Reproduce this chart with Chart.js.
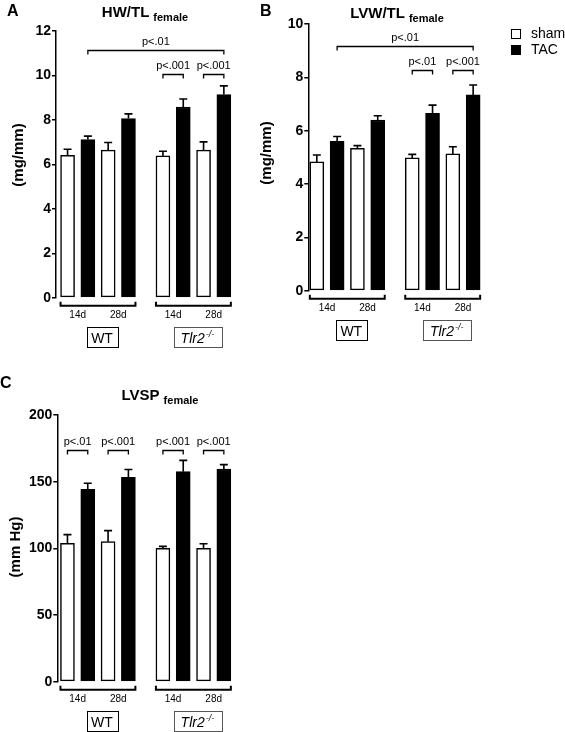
<!DOCTYPE html>
<html>
<head>
<meta charset="utf-8">
<script src="https://cdn.jsdelivr.net/npm/chart.js@4"></script>
<style>
  body { margin: 0; background: #fff; }
  #wrap { position: relative; width: 565px; height: 732px; }
  canvas { position: absolute; }
</style>
</head>
<body>
<div id="wrap">
  <canvas id="chartA" width="250" height="365" style="left:0;top:0"></canvas>
  <canvas id="chartB" width="315" height="365" style="left:250px;top:0"></canvas>
  <canvas id="chartC" width="250" height="362" style="left:0;top:370px"></canvas>
</div>
<script>
// conditions, in bar order: WT 14d, WT 28d, Tlr2 14d, Tlr2 28d
const genotypes = ['WT', 'Tlr2'];
const days = ['14d', '28d'];
const seriesNames = ['sham', 'TAC'];

// HW/TL female (mg/mm)
const hwSham = [6.41, 6.64, 6.38, 6.64];
const hwShamErr = [0.27, 0.34, 0.21, 0.37];
const hwTac = [7.12, 8.06, 8.58, 9.14];
const hwTacErr = [0.15, 0.21, 0.36, 0.39];
const hwTicks = [0, 12, 2];
// [from bar, to bar, level, text]
const hwSig = [[1, 7, 11.15, 'p<.01'], [4, 5, 10.05, 'p<.001'], [6, 7, 10.05, 'p<.001']];

// LVW/TL female (mg/mm)
const lvwSham = [4.83, 5.34, 4.98, 5.13];
const lvwShamErr = [0.26, 0.10, 0.13, 0.27];
const lvwTac = [5.60, 6.40, 6.65, 7.34];
const lvwTacErr = [0.18, 0.16, 0.31, 0.37];
const lvwTicks = [0, 10, 2];
const lvwSig = [[1, 7, 9.18, 'p<.01'], [4, 5, 8.28, 'p<.01'], [6, 7, 8.28, 'p<.001']];

// LVSP female (mm Hg)
const lvspSham = [103.8, 105.0, 100.0, 100.0];
const lvspShamErr = [6.5, 8.3, 1.5, 3.5];
const lvspTac = [144.3, 153.3, 157.5, 159.5];
const lvspTacErr = [4.5, 5.8, 8.5, 3.3];
const lvspTicks = [0, 200, 50];
const lvspSig = [[0, 1, 173.8, 'p<.01'], [2, 3, 173.8, 'p<.001'], [4, 5, 173.8, 'p<.001'], [6, 7, 173.8, 'p<.001']];

const FONT = '"Liberation Sans", Arial, Helvetica, sans-serif';
Chart.defaults.font.family = FONT;
Chart.defaults.color = '#000';

const GROUP_STEP = 4.7;   // genotype groups sit a little further apart
function xPos(k, s) {
    return Math.floor(k / 2) * GROUP_STEP + (k % 2) * 2 + s;
}

function makeDatasets(sham, tac) {
    return [sham, tac].map((vals, s) => ({
        label: seriesNames[s],
        data: vals.map((v, k) => ({ x: xPos(k, s), y: v })),
        backgroundColor: s ? '#000' : '#fff',
        borderColor: '#000',
        borderWidth: 1.5,
        borderSkipped: false,
        grouped: false,
        barThickness: 14
    }));
}

function panelPlugin(cfg) {
    return {
        id: 'panelDecor',
        afterDatasetsDraw(chart) {
            const ctx = chart.ctx;
            const y = chart.scales.y;
            const bar = i => chart.getDatasetMeta(i % 2).data[Math.floor(i / 2)];
            const zero = y.getPixelForValue(0);
            ctx.save();
            ctx.fillStyle = '#000';
            ctx.strokeStyle = '#000';

            // error bars (SEM, upward only)
            cfg.errors.forEach((errs, s) => {
                chart.getDatasetMeta(s).data.forEach((el, k) => {
                    const top = y.getPixelForValue(chart.data.datasets[s].data[k].y + errs[k]);
                    ctx.lineWidth = 1.6;
                    ctx.beginPath();
                    ctx.moveTo(el.x, el.y);
                    ctx.lineTo(el.x, top);
                    ctx.moveTo(el.x - 4, top);
                    ctx.lineTo(el.x + 4, top);
                    ctx.stroke();
                });
            });

            // panel letter
            ctx.font = 'bold 16px ' + FONT;
            ctx.textAlign = 'left';
            ctx.textBaseline = 'alphabetic';
            ctx.fillText(cfg.letter, cfg.letterX, cfg.letterY);

            // title with subscript
            ctx.font = 'bold 15px ' + FONT;
            const w1 = ctx.measureText(cfg.title).width;
            ctx.font = 'bold 11px ' + FONT;
            const w2 = ctx.measureText('female').width;
            const tx = cfg.titleX - (w1 + 4 + w2) / 2;
            ctx.font = 'bold 15px ' + FONT;
            ctx.fillText(cfg.title, tx, cfg.titleY);
            ctx.font = 'bold 11px ' + FONT;
            ctx.fillText('female', tx + w1 + 4, cfg.titleY + 4);

            // y axis title
            ctx.save();
            ctx.translate(cfg.yTitleX, cfg.yTitleY);
            ctx.rotate(-Math.PI / 2);
            ctx.font = 'bold 15px ' + FONT;
            ctx.textAlign = 'center';
            ctx.textBaseline = 'middle';
            ctx.fillText(cfg.yTitle, 0, 0);
            ctx.restore();

            // significance brackets
            ctx.lineWidth = 1.3;
            ctx.textAlign = 'center';
            ctx.font = '11px ' + FONT;
            cfg.sig.forEach(([a, b, level, text]) => {
                const x1 = bar(a).x, x2 = bar(b).x;
                const yy = Math.round(y.getPixelForValue(level)) + 0.5;
                ctx.beginPath();
                ctx.moveTo(x1, yy + 4);
                ctx.lineTo(x1, yy);
                ctx.lineTo(x2, yy);
                ctx.lineTo(x2, yy + 4);
                ctx.stroke();
                ctx.fillText(text, (x1 + x2) / 2, yy - 6);
            });

            // group brackets, day labels and genotype boxes
            const half = bar(0).width / 2;
            genotypes.forEach((g, gi) => {
                const left = bar(gi * 4).x - half;
                const right = bar(gi * 4 + 3).x + half;
                const by = zero + 8;
                ctx.lineWidth = 2;
                ctx.beginPath();
                ctx.moveTo(left, by - 4);
                ctx.lineTo(left, by);
                ctx.lineTo(right, by);
                ctx.lineTo(right, by - 4);
                ctx.stroke();

                ctx.font = '10px ' + FONT;
                ctx.textAlign = 'center';
                days.forEach((d, di) => {
                    const k = gi * 2 + di;
                    const cx = (bar(k * 2).x + bar(k * 2 + 1).x) / 2;
                    ctx.fillText(d, cx, zero + 20);
                });

                const cx = (left + right) / 2 + 4;
                const top = zero + 29;
                ctx.textAlign = 'left';
                let w, sup = '';
                if (g === 'WT') {
                    ctx.font = '14px ' + FONT;
                    w = ctx.measureText(g).width;
                } else {
                    ctx.font = 'italic 14px ' + FONT;
                    sup = '-/-';
                    const wm = ctx.measureText(g).width;
                    ctx.font = 'italic 9px ' + FONT;
                    w = wm + ctx.measureText(sup).width + 1;
                }
                const bw = w + (sup ? 14 : 9);
                ctx.lineWidth = 1;
                ctx.strokeStyle = sup ? '#555' : '#000';
                ctx.strokeRect(Math.round(cx - bw / 2) + 0.5, Math.round(top) + 0.5, Math.round(bw), 20);
                ctx.strokeStyle = '#000';
                const tx0 = cx - w / 2;
                if (!sup) {
                    ctx.font = '14px ' + FONT;
                    ctx.fillText(g, tx0, top + 16);
                } else {
                    ctx.font = 'italic 14px ' + FONT;
                    ctx.fillText(g, tx0, top + 16);
                    const wm = ctx.measureText(g).width;
                    ctx.font = 'italic 9px ' + FONT;
                    ctx.fillText(sup, tx0 + wm + 1, top + 10);
                }
            });

            // legend
            if (cfg.legend) {
                chart.data.datasets.forEach((ds, i) => {
                    const lx = cfg.legendX, ly = cfg.legendY + i * 16;
                    ctx.fillStyle = ds.backgroundColor;
                    ctx.fillRect(lx, ly, 10, 10);
                    ctx.lineWidth = 1;
                    ctx.strokeRect(lx + 0.5, ly + 0.5, 9, 9);
                    ctx.fillStyle = '#000';
                    ctx.font = '14px ' + FONT;
                    ctx.textAlign = 'left';
                    ctx.textBaseline = 'middle';
                    ctx.fillText(ds.label, lx + 20, ly + 5);
                    ctx.textBaseline = 'alphabetic';
                });
            }
            ctx.restore();
        }
    };
}

function makeChart(id, sham, tac, ticks, layout, cfg) {
    new Chart(document.getElementById(id), {
        type: 'bar',
        data: { datasets: makeDatasets(sham, tac) },
        options: {
            responsive: false,
            animation: false,
            layout: { padding: layout.padding, autoPadding: false },
            plugins: { legend: { display: false }, tooltip: { enabled: false } },
            scales: {
                x: { type: 'linear', min: layout.xMin, max: 8.2, offset: false, display: false },
                y: {
                    min: ticks[0],
                    max: ticks[1],
                    afterFit: s => { s.width = 40; },
                    ticks: { stepSize: ticks[2], padding: 1, color: '#000', font: { size: 14, weight: 'bold' } },
                    grid: { drawOnChartArea: false, color: '#000', tickLength: 4, lineWidth: 1.5 },
                    border: { color: '#000', width: 1.5 }
                }
            }
        },
        plugins: [panelPlugin(cfg)]
    });
}

makeChart('chartA', hwSham, hwTac, hwTicks,
    { xMin: -0.57, padding: { left: 16, top: 31, right: 16, bottom: 67.3 } },
    { letter: 'A', letterX: 7, letterY: 16, title: 'HW/TL', titleX: 145, titleY: 17,
      yTitle: '(mg/mm)', yTitleX: 19, yTitleY: 155,
      errors: [hwShamErr, hwTacErr], sig: hwSig });

makeChart('chartB', lvwSham, lvwTac, lvwTicks,
    { xMin: -0.42, padding: { left: 18.3, top: 24, right: 81.7, bottom: 74.3 } },
    { letter: 'B', letterX: 10, letterY: 16, title: 'LVW/TL', titleX: 147, titleY: 18,
      yTitle: '(mg/mm)', yTitleX: 17, yTitleY: 153,
      errors: [lvwShamErr, lvwTacErr], sig: lvwSig,
      legend: true, legendX: 261, legendY: 29 });

makeChart('chartC', lvspSham, lvspTac, lvspTicks,
    { xMin: -0.5, padding: { left: 17.3, top: 45, right: 16, bottom: 50.3 } },
    { letter: 'C', letterX: 0, letterY: 18, title: 'LVSP', titleX: 160, titleY: 30,
      yTitle: '(mm Hg)', yTitleX: 16, yTitleY: 177,
      errors: [lvspShamErr, lvspTacErr], sig: lvspSig });
</script>
</body>
</html>
